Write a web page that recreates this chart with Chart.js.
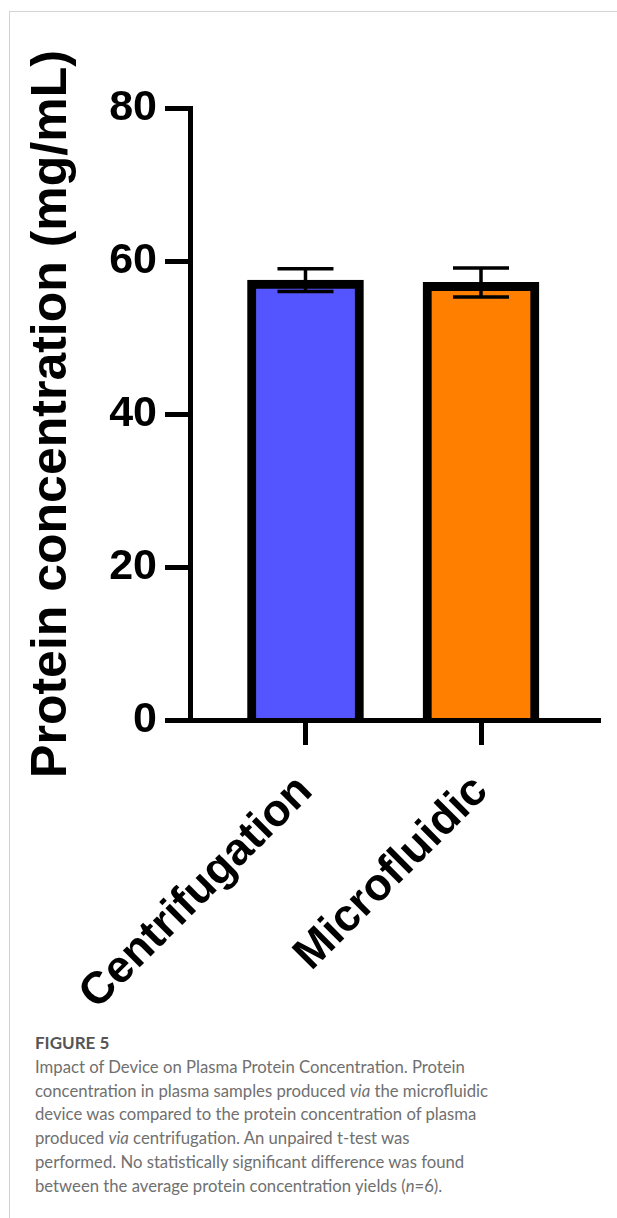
<!DOCTYPE html>
<html><head><meta charset="utf-8">
<script src="https://cdn.jsdelivr.net/npm/chart.js@4/dist/chart.umd.min.js"></script>
<style>
html,body{margin:0;padding:0;background:#fff;width:617px;height:1218px;overflow:hidden}
#frame{position:absolute;left:9px;top:11px;width:640px;height:1240px;border-left:1.5px solid #d3d3d3;border-top:1.5px solid #d3d3d3;}
#c{position:absolute;left:0;top:0}
#cap{position:absolute;left:35px;top:1031px;font-family:Lato,'Open Sans',sans-serif;color:#707070;font-size:16.7px;line-height:23.8px;white-space:nowrap}
#cap .fig{font-weight:700;color:#555;font-size:17px;}
</style></head><body>
<div id="frame"></div>
<canvas id="c" width="617" height="1014"></canvas>
<div id="cap"><span class="fig">FIGURE 5</span><br>Impact of Device on Plasma Protein Concentration. Protein<br>concentration in plasma samples produced <i>via</i> the microfluidic<br>device was compared to the protein concentration of plasma<br>produced <i>via</i> centrifugation. An unpaired t-test was<br>performed. No statistically significant difference was found<br>between the average protein concentration yields (<i>n</i>=6).</div>
<script>
const categories = ['Centrifugation', 'Microfluidic'];
const means = [57.5, 57.2];
const sds = [1.5, 1.9];
const barColors = ['#5555ff', '#ff8000'];
const yTicks = [0, 20, 40, 60, 80];
const yTitle = 'Protein concentration (mg/mL)';

const FONT = "'Liberation Sans', Arial, Helvetica, sans-serif";

const errorBars = {
  id: 'errorBars',
  afterDatasetsDraw(chart) {
    const ctx = chart.ctx;
    const y = chart.scales.y;
    const meta = chart.getDatasetMeta(0);
    ctx.save();
    ctx.strokeStyle = '#000';
    ctx.lineWidth = 3.5;
    means.forEach((m, i) => {
      const px = meta.data[i].x;
      const top = y.getPixelForValue(m + sds[i]);
      const bot = y.getPixelForValue(m - sds[i]);
      const hw = 28;
      ctx.beginPath();
      ctx.moveTo(px, top); ctx.lineTo(px, bot);
      ctx.moveTo(px - hw, top); ctx.lineTo(px + hw, top);
      ctx.moveTo(px - hw, bot); ctx.lineTo(px + hw, bot);
      ctx.stroke();
    });
    ctx.restore();
  }
};

new Chart(document.getElementById('c'), {
  type: 'bar',
  data: {
    datasets: [{
      data: categories.map((c, i) => ({ x: i + 1, y: means[i] })),
      backgroundColor: barColors,
      borderColor: '#000',
      borderWidth: 9,
      borderSkipped: 'start',
      barThickness: 116
    }]
  },
  options: {
    responsive: false,
    animation: false,
    devicePixelRatio: 1,
    layout: { padding: { left: 10, top: 108, right: 17, bottom: 0 } },
    plugins: { legend: { display: false }, tooltip: { enabled: false } },
    scales: {
      x: {
        type: 'linear',
        offset: false,
        min: 0.342, max: 2.678,
        afterBuildTicks(s) { s.ticks = categories.map((c, i) => ({ value: i + 1 })); },
        afterFit(s) { s.height = 294; },
        ticks: {
          callback: (v) => categories[Math.round(v) - 1],
          autoSkip: false, minRotation: 45, maxRotation: 45, padding: 20,
          color: '#000', font: { family: FONT, weight: 'bold', size: 45 }
        },
        grid: { offset: false, drawOnChartArea: false, drawTicks: true, tickLength: 25, tickWidth: 5, tickColor: '#000' },
        border: { display: true, color: '#000', width: 5, z: 1 }
      },
      y: {
        min: 0, max: 80,
        afterBuildTicks(s) { s.ticks = yTicks.map(v => ({ value: v })); },
        afterFit(s) { s.width = 180; },
        ticks: { padding: 8, color: '#000', font: { family: FONT, weight: 'bold', size: 43 } },
        grid: { drawOnChartArea: false, drawTicks: true, tickLength: 25, tickWidth: 5, tickColor: '#000' },
        border: { display: true, color: '#000', width: 5, z: 1 },
        title: {
          display: true, text: yTitle, color: '#000',
          font: { family: FONT, weight: 'bold', size: 50 },
          padding: { top: 12, bottom: 0 }
        }
      }
    }
  },
  plugins: [errorBars]
});
</script>
</body></html>
